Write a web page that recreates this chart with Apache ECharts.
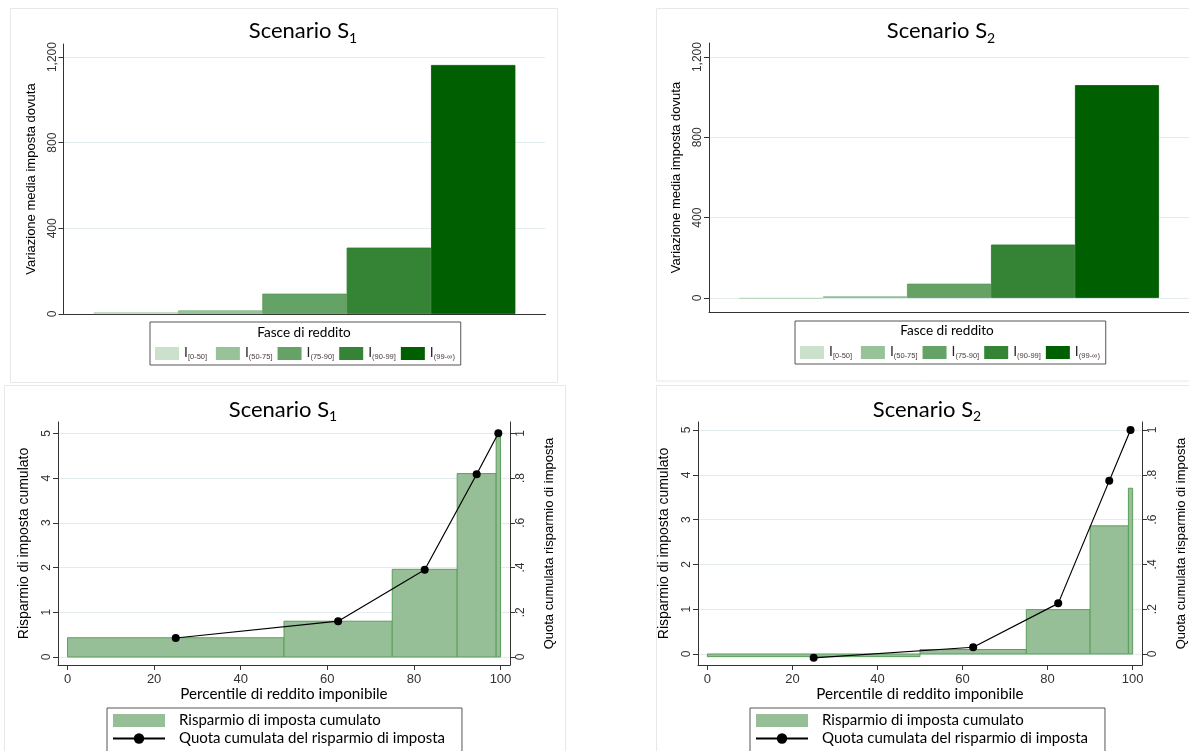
<!DOCTYPE html>
<html><head><meta charset="utf-8">
<script src="https://cdn.jsdelivr.net/npm/echarts@6/dist/echarts.min.js"></script>
<style>html,body{margin:0;padding:0;background:#fff}#c{width:1189px;height:751px}</style>
</head><body><div id="c"></div>
<script>
// ---------- data ----------
const bandNames = ['I[0-50]', 'I(50-75]', 'I(75-90]', 'I(90-99]', 'I(99-∞)'];
const bandSubs = ['[0-50]', '(50-75]', '(75-90]', '(90-99]', '(99-∞)'];
const s1Variation = [9, 17, 95, 310, 1163];
const s2Variation = [-4, 8, 71, 266, 1060];
const yTicksTop = [0, 400, 800, 1200];

const binStart = [0, 50, 75, 90, 99];
const binEnd = [50, 75, 90, 99, 100];
const s1Savings = [0.43, 0.80, 1.96, 4.10, 5.05];
const s2Savings = [-0.06, 0.10, 0.99, 2.86, 3.70];
const pointPct = [25, 62.5, 82.5, 94.5, 99.5];
const s1Share = [0.085, 0.160, 0.390, 0.817, 1.0];
const s2Share = [-0.017, 0.030, 0.226, 0.773, 1.0];
const xTicksBottom = [0, 20, 40, 60, 80, 100];
const yTicksLeft = [0, 1, 2, 3, 4, 5];
const yTicksRight = [0, 0.2, 0.4, 0.6, 0.8, 1];

const histName = 'Risparmio di imposta cumulato';
const lineName = 'Quota cumulata del risparmio di imposta';

// ---------- styles ----------
const bandColors = ['#cbe1cb', '#98c298', '#65a265', '#358435', '#005f00'];
const bandBorders = ['#b8d6b8', '#86b886', '#569856', '#2c782c', '#005500'];
const FC = 'Lato, "Open Sans", sans-serif';
const FA = '"Liberation Sans", Arial, sans-serif';
const AX = '#333';
const GRID = '#e3edef';

const chart = echarts.init(document.getElementById('c'), null, {renderer: 'canvas'});

function titleText(x, y, sub) {
  return {
    type: 'text', x: x, y: y, z: 10,
    style: {
      text: '{a|Scenario S}{b|' + sub + '}',
      align: 'center', verticalAlign: 'middle',
      rich: {
        a: {fontFamily: FC, fontSize: 22, lineHeight: 22, verticalAlign: 'top', fill: '#000'},
        b: {fontFamily: FC, fontSize: 14, lineHeight: 25, verticalAlign: 'bottom', fill: '#000'}
      }
    }
  };
}
function plainText(x, y, t, size) {
  return {type: 'text', x: x, y: y, z: 10,
    style: {text: t, fontFamily: FC, fontSize: size, fill: '#000', align: 'center', verticalAlign: 'middle'}};
}
function frame(x, y, w, h) {
  return {type: 'rect', shape: {x: x, y: y, width: w, height: h}, z: -1,
    style: {fill: 'none', stroke: '#e8e8e8', lineWidth: 1}};
}

function topYAxis(gi, min, max) {
  return {
    gridIndex: gi, type: 'value', min: min, max: max,
    name: 'Variazione media imposta dovuta', nameLocation: 'middle', nameRotate: 90, nameGap: 26,
    nameTextStyle: {fontFamily: FA, fontSize: 13, color: '#000'},
    axisLine: {show: true, onZero: false, lineStyle: {color: AX, width: 1}},
    axisTick: {show: true, length: 5, customValues: yTicksTop, lineStyle: {color: AX}},
    axisLabel: {customValues: yTicksTop, rotate: 90, margin: 5, fontFamily: FA, fontSize: 12, color: '#333',
      formatter: v => Number(v).toLocaleString('en-US')},
    splitLine: {show: true, lineStyle: {color: GRID, width: 1}}
  };
}
function topXAxis(gi) {
  return {
    gridIndex: gi, type: 'category', data: ['Fasce di reddito'],
    axisLine: {show: true, onZero: false, lineStyle: {color: AX, width: 1}},
    axisTick: {show: false}, axisLabel: {show: false}, splitLine: {show: false}
  };
}
function botXAxis(gi) {
  return {
    gridIndex: gi, type: 'value', min: -2.2, max: 102.2,
    name: 'Percentile di reddito imponibile', nameLocation: 'middle', nameGap: 20,
    nameTextStyle: {fontFamily: FC, fontSize: 15.2, color: '#000'},
    axisLine: {show: true, onZero: false, lineStyle: {color: AX, width: 1}},
    axisTick: {show: true, length: 5, customValues: xTicksBottom, lineStyle: {color: AX}},
    axisLabel: {customValues: xTicksBottom, margin: 8, fontFamily: FA, fontSize: 13, color: '#333'},
    splitLine: {show: false}
  };
}
function botLeftY(gi, min, max) {
  return {
    gridIndex: gi, type: 'value', position: 'left', min: min, max: max,
    name: 'Risparmio di imposta cumulato', nameLocation: 'middle', nameRotate: 90, nameGap: 27,
    nameTextStyle: {fontFamily: FA, fontSize: 14, color: '#000'},
    axisLine: {show: true, onZero: false, lineStyle: {color: AX, width: 1}},
    axisTick: {show: true, length: 5, customValues: yTicksLeft, lineStyle: {color: AX}},
    axisLabel: {customValues: yTicksLeft, rotate: 90, margin: 5, fontFamily: FA, fontSize: 12, color: '#333'},
    splitLine: {show: true, lineStyle: {color: GRID, width: 1}}
  };
}
function botRightY(gi, min, max) {
  return {
    gridIndex: gi, type: 'value', position: 'right', min: min, max: max,
    name: 'Quota cumulata risparmio di imposta', nameLocation: 'middle', nameRotate: 90, nameGap: 33,
    nameTextStyle: {fontFamily: FA, fontSize: 13, color: '#000'},
    axisLine: {show: true, onZero: false, lineStyle: {color: AX, width: 1}},
    axisTick: {show: true, length: 5, customValues: yTicksRight, lineStyle: {color: AX}},
    axisLabel: {customValues: yTicksRight, rotate: 90, margin: 5, fontFamily: FA, fontSize: 12, color: '#333',
      formatter: v => (v === 0 ? '0' : v === 1 ? '1' : Number(v).toFixed(1).replace(/^0\./, '.'))},
    splitLine: {show: false}
  };
}

function barSeries(vals, axisIdx) {
  return vals.map((v, i) => ({
    type: 'bar', name: bandNames[i], xAxisIndex: axisIdx, yAxisIndex: axisIdx,
    data: [v], barGap: '0%', barCategoryGap: '12.5%',
    itemStyle: {color: bandColors[i], borderColor: bandBorders[i], borderWidth: 0.8},
    emphasis: {disabled: true}
  }));
}
function histSeries(vals, xi, yi) {
  return {
    type: 'custom', name: histName, xAxisIndex: xi, yAxisIndex: yi,
    data: binStart.map((s, i) => [s, binEnd[i], vals[i]]),
    encode: {x: [0, 1], y: 2},
    itemStyle: {color: '#97bf97'},
    renderItem: function (params, api) {
      const p0 = api.coord([api.value(0), 0]);
      const p1 = api.coord([api.value(1), api.value(2)]);
      return {
        type: 'rect',
        shape: {x: p0[0], y: Math.min(p0[1], p1[1]), width: p1[0] - p0[0], height: Math.abs(p1[1] - p0[1])},
        style: {fill: '#97bf97', stroke: '#5b9e5b', lineWidth: 1}
      };
    }
  };
}
function lineSeries(vals, xi, yi) {
  return {
    type: 'line', name: lineName, xAxisIndex: xi, yAxisIndex: yi,
    data: pointPct.map((x, i) => [x, vals[i]]),
    symbol: 'circle', symbolSize: 8, z: 5,
    lineStyle: {color: '#000', width: 1.2}, itemStyle: {color: '#000'},
    emphasis: {disabled: true}
  };
}

function topLegend(left, top) {
  return {
    left: left, top: top, orient: 'horizontal', selectedMode: false,
    padding: [24, 4, 4, 5], borderColor: '#555', borderWidth: 1,
    itemWidth: 24, itemHeight: 13, itemGap: 5,
    data: bandNames.map((n, i) => ({name: n, icon: 'rect', itemStyle: {color: bandColors[i], borderWidth: 0}})),
    formatter: function (name) { return '{i|I}{s|' + bandSubs[bandNames.indexOf(name)] + '}'; },
    textStyle: {
      rich: {
        i: {fontFamily: FA, fontSize: 14, lineHeight: 15, verticalAlign: 'top', color: '#222'},
        s: {fontFamily: FA, fontSize: 7.5, lineHeight: 14, verticalAlign: 'bottom', color: '#4a3a3a', width: 23}
      }
    }
  };
}
function botLegend(left, top) {
  return {
    left: left, top: top, height: 60, orient: 'vertical', selectedMode: false,
    padding: [5, 17, 20, 5], borderColor: '#555', borderWidth: 1,
    itemWidth: 52, itemHeight: 13, itemGap: 3,
    data: [
      {name: histName, icon: 'rect', itemStyle: {color: '#97bf97'}},
      {name: lineName}
    ],
    textStyle: {fontFamily: FC, fontSize: 15, color: '#000', padding: [0, 0, 0, 9]}
  };
}

const option = {
  backgroundColor: '#fff',
  animation: false,
  grid: [
    {left: 63.5, top: 44, width: 482, height: 270},
    {left: 709, top: 43, width: 482, height: 269},
    {left: 58, top: 422, width: 452, height: 243},
    {left: 698, top: 422, width: 454, height: 243}
  ],
  xAxis: [topXAxis(0), topXAxis(1), botXAxis(2), botXAxis(3)],
  yAxis: [
    topYAxis(0, 0, 1261),
    topYAxis(1, -70, 1270),
    botLeftY(2, -0.179, 5.253),
    botRightY(2, -0.0358, 1.0506),
    botLeftY(3, -0.246, 5.179),
    botRightY(3, -0.0492, 1.0358)
  ],
  legend: [topLegend(150, 322), topLegend(795, 321), botLegend(107, 708), botLegend(750, 708)],
  graphic: [
    frame(10.5, 8.5, 547, 374),
    frame(656.5, 8.5, 560, 372.5),
    frame(4.5, 385.5, 561, 400),
    frame(656.5, 385.5, 560, 400),
    titleText(303, 32.5, '1'),
    titleText(941, 32.5, '2'),
    titleText(283, 411, '1'),
    titleText(927, 411, '2'),
    plainText(304, 333, 'Fasce di reddito', 13.6),
    plainText(947, 331, 'Fasce di reddito', 13.6)
  ],
  series: [].concat(
    barSeries(s1Variation, 0),
    barSeries(s2Variation, 1),
    [histSeries(s1Savings, 2, 2), lineSeries(s1Share, 2, 3)],
    [histSeries(s2Savings, 3, 4), lineSeries(s2Share, 3, 5)]
  )
};
chart.setOption(option);
</script>
</body></html>
